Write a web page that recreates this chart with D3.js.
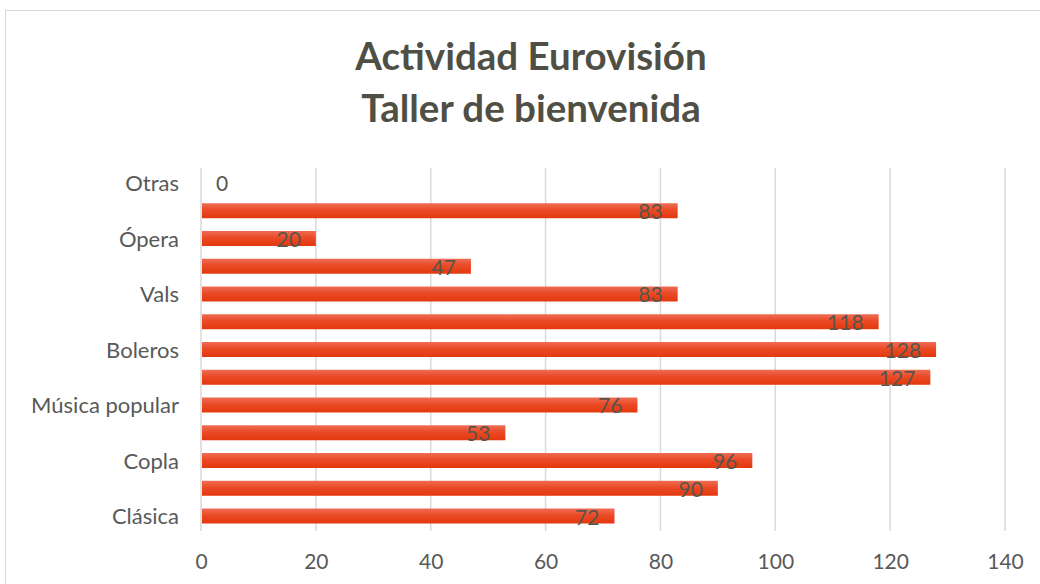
<!DOCTYPE html>
<html>
<head>
<meta charset="utf-8">
<script src="https://cdn.jsdelivr.net/npm/d3@7"></script>
<style>
  body { margin: 0; background: #fff; }
  text { font-family: Lato, "Open Sans", sans-serif; }
</style>
</head>
<body>
<div id="chart"></div>
<script>
// categories listed bottom to top, as in the source sheet (every other label is hidden)
const categories = ["Clásica", "", "Copla", "", "Música popular", "", "Boleros", "", "Vals", "", "Ópera", "", "Otras"];
const values = [72, 90, 96, 53, 76, 127, 128, 118, 83, 47, 20, 83, 0];
const xTicks = [0, 20, 40, 60, 80, 100, 120, 140];
const titleLines = ["Actividad Eurovisión", "Taller de bienvenida"];

const W = 1040, H = 584;
const margin = { top: 168, right: 35, bottom: 53, left: 201 };

const svg = d3.select("#chart").append("svg")
  .attr("width", W)
  .attr("height", H);

// gradient for bars
const grad = svg.append("defs").append("linearGradient")
  .attr("id", "barGrad")
  .attr("x1", 0).attr("y1", 0).attr("x2", 0).attr("y2", 1);
grad.append("stop").attr("offset", "0%").attr("stop-color", "#ef6d55");
grad.append("stop").attr("offset", "45%").attr("stop-color", "#ea4a26");
grad.append("stop").attr("offset", "100%").attr("stop-color", "#e3380e");

// chart area border
svg.append("rect")
  .attr("x", 5.5).attr("y", 10.5)
  .attr("width", W + 20).attr("height", H + 20)
  .attr("fill", "none")
  .attr("stroke", "#d9d9d9");

// title
svg.append("g").selectAll("text")
  .data(titleLines)
  .join("text")
    .attr("x", 531)
    .attr("y", (d, i) => 70 + i * 52)
    .attr("text-anchor", "middle")
    .attr("font-size", 38.5)
    .attr("font-weight", "bold")
    .attr("fill", "#4f4f45")
    .text(d => d);

const x = d3.scaleLinear()
  .domain([0, 140])
  .range([margin.left, W - margin.right]);

const y = d3.scaleBand()
  .domain(d3.range(categories.length))
  .range([H - margin.bottom, margin.top])
  .paddingInner(0.46)
  .paddingOuter(0.27);

// gridlines
svg.append("g").selectAll("line")
  .data(xTicks)
  .join("line")
    .attr("x1", d => x(d)).attr("x2", d => x(d))
    .attr("y1", margin.top).attr("y2", H - margin.bottom)
    .attr("stroke", "#d9d9d9")
    .attr("stroke-width", 1.5);

// x axis
const xAxis = svg.append("g")
  .attr("transform", "translate(0," + (H - margin.bottom) + ")")
  .call(d3.axisBottom(x).tickValues(xTicks).tickSize(0).tickPadding(23));
xAxis.select(".domain").remove();
xAxis.selectAll("text")
  .attr("font-size", 21)
  .attr("fill", "#595959")
  .style("font-family", "Lato, sans-serif");

// y axis
const yAxis = svg.append("g")
  .attr("transform", "translate(" + (margin.left - 22) + ",1)")
  .call(d3.axisLeft(y).tickFormat(i => categories[i]).tickSize(0).tickPadding(0));
yAxis.select(".domain").remove();
yAxis.selectAll("text")
  .attr("font-size", 22)
  .attr("fill", "#595959")
  .style("font-family", "Lato, sans-serif");

// bars
svg.append("g").selectAll("rect")
  .data(values)
  .join("rect")
    .attr("x", x(0) + 1)
    .attr("y", (d, i) => y(i))
    .attr("width", d => Math.max(0, x(d) - x(0) - 1))
    .attr("height", y.bandwidth())
    .attr("fill", "url(#barGrad)");

// value labels (inside end)
svg.append("g").selectAll("text")
  .data(values)
  .join("text")
    .attr("x", d => d === 0 ? x(0) + 15 : x(d) - 15)
    .attr("y", (d, i) => y(i) + y.bandwidth() + 1)
    .attr("text-anchor", d => d === 0 ? "start" : "end")
    .attr("font-size", 21)
    .attr("fill", "#59554b")
    .text(d => d);
</script>
</body>
</html>
